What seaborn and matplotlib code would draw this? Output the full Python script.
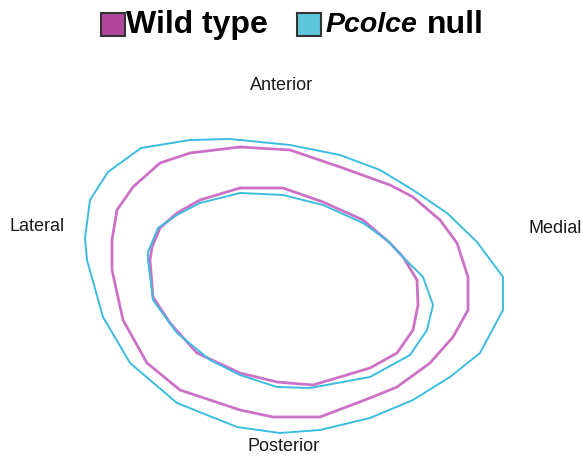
import numpy as np
import pandas as pd
import matplotlib
matplotlib.use("Agg")
import matplotlib.pyplot as plt
import seaborn as sns
from matplotlib.patches import Rectangle

# contour outlines traced from the cross-section (pixel units, y down)
wt_outer_x = [240, 290, 340, 390, 413, 440, 457, 468, 468, 453, 430, 397, 370, 320, 273, 240, 180, 147, 123, 112, 112, 117, 133, 160, 190, 240]
wt_outer_y = [147, 150, 167, 185, 197, 220, 243, 277, 310, 337, 363, 387, 398, 417, 417, 410, 390, 363, 320, 270, 240, 210, 187, 163, 153, 147]

wt_inner_x = [240, 283, 323, 363, 390, 403, 417, 418, 413, 397, 370, 313, 277, 240, 197, 170, 153, 150, 152, 160, 177, 200, 240]
wt_inner_y = [188, 188, 202, 220, 243, 257, 280, 305, 330, 353, 368, 385, 382, 373, 353, 323, 297, 260, 247, 228, 213, 200, 188]

ko_outer_x = [141, 190, 230, 290, 340, 380, 413, 447, 477, 503, 503, 480, 450, 413, 370, 320, 280, 237, 177, 130, 103, 87, 85, 90, 108, 141]
ko_outer_y = [148, 140, 139, 145, 155, 170, 190, 213, 242, 277, 310, 353, 377, 400, 418, 430, 433, 427, 403, 363, 317, 260, 238, 200, 172, 148]

ko_inner_x = [240, 283, 323, 363, 387, 403, 423, 433, 427, 410, 370, 310, 277, 240, 210, 177, 153, 148, 148, 158, 177, 200, 240]
ko_inner_y = [193, 195, 205, 223, 240, 257, 277, 305, 330, 355, 377, 388, 387, 375, 360, 333, 300, 260, 252, 228, 215, 203, 193]

genotypes = ["Wild type", "Pcolce null"]
colors = {"Wild type": "#cc72c6", "Pcolce null": "#3cbde0"}
box_colors = ["#b0479c", "#5cc6da"]

rows = []
for name, gt, xs, ys in [
    ("wt_outer", "Wild type", wt_outer_x, wt_outer_y),
    ("wt_inner", "Wild type", wt_inner_x, wt_inner_y),
    ("ko_outer", "Pcolce null", ko_outer_x, ko_outer_y),
    ("ko_inner", "Pcolce null", ko_inner_x, ko_inner_y),
]:
    for i, (x, y) in enumerate(zip(xs, ys)):
        rows.append({"x": x, "y": y, "contour": name, "genotype": gt, "order": i})
df = pd.DataFrame(rows)

sns.set_style("white")
plt.rcParams["font.family"] = ["Liberation Sans", "DejaVu Sans"]

fig = plt.figure(figsize=(5.82, 4.61), dpi=100)
ax = fig.add_axes([0, 0, 1, 1])

widths = {"wt_outer": 2.0, "wt_inner": 2.0, "ko_outer": 1.4, "ko_inner": 1.4}
for name in ["wt_outer", "wt_inner", "ko_outer", "ko_inner"]:
    sub = df[df["contour"] == name]
    sns.lineplot(data=sub, x="x", y="y", sort=False, estimator=None,
                 color=colors[sub["genotype"].iloc[0]], lw=widths[name], ax=ax)

ax.set_xlim(0, 582)
ax.set_ylim(461, 0)
ax.axis("off")

# orientation labels
lab = dict(ha="center", va="center", fontsize=13, color="#1a1a1a")
ax.text(282, 85, "Anterior", **lab)
ax.text(37, 226, "Lateral", **lab)
ax.text(555, 228, "Medial", **lab)
ax.text(284, 446, "Posterior", **lab)

# legend
leg = dict(ha="left", va="center", fontweight="bold", color="black")
ax.add_patch(Rectangle((101, 13), 24, 23, facecolor=box_colors[0], edgecolor="#333333", lw=1.5))
ax.text(126, 25, "Wild type", fontsize=23, **leg)
ax.add_patch(Rectangle((297, 13), 24, 23, facecolor=box_colors[1], edgecolor="#333333", lw=1.5))
ax.text(326, 25, "Pcolce", style="italic", fontsize=20.5, **leg)
ax.text(427, 25, "null", fontsize=23, **leg)

fig.savefig("out.png", dpi=100)
